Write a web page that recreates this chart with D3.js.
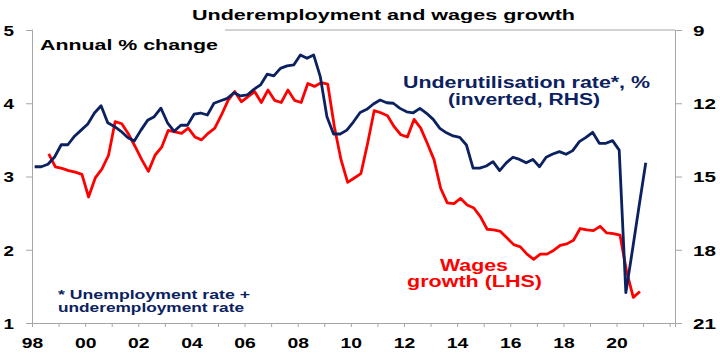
<!DOCTYPE html>
<html>
<head>
<meta charset="utf-8">
<script src="https://cdn.jsdelivr.net/npm/d3@7"></script>
<style>
body { margin: 0; background: #fff; }
text { font-family: "Liberation Sans", Arial, sans-serif; font-weight: bold; }
</style>
</head>
<body>
<div id="chart-area"></div>
<script>
const margin = {top: 30, right: 45, bottom: 30, left: 32};
const width = 643;
const height = 293;

const navy = "#0b2160";
const red = "#ff0000";
const axisGrey = "#a6a6a6";

// Underutilisation rate, % (quarterly, from Feb 1998)
const underStart = 1998.1;
const underutil = [14.6, 14.6, 14.5, 14.2, 13.7, 13.7, 13.35, 13.1, 12.85, 12.4,
	12.1, 12.8, 12.95, 13.15, 13.4, 13.55, 13.1, 12.7, 12.55, 12.2,
	12.8, 13.15, 12.9, 12.9, 12.45, 12.4, 12.48, 12.0, 11.9, 11.8,
	11.57, 11.7, 11.66, 11.43, 11.25, 10.81, 10.88, 10.57, 10.47, 10.43,
	10.02, 10.16, 10.02, 10.91, 12.55, 13.26, 13.26, 13.1, 12.76, 12.38,
	12.25, 12.03, 11.87, 11.98, 12.0, 12.21, 12.35, 12.39, 12.21, 12.41,
	12.66, 13.03, 13.21, 13.34, 13.4, 13.71, 14.66, 14.66, 14.57, 14.39,
	14.76, 14.44, 14.21, 14.3, 14.44, 14.3, 14.6, 14.21, 14.08, 13.98,
	14.09, 13.94, 13.57, 13.4, 13.19, 13.64, 13.64, 13.53, 13.92, 19.76,
	18.0, 16.2, 14.44];

// Wages growth, annual % change (quarterly, from Sep 1998)
const wagesStart = 1998.63;
const wages = [3.31, 3.13, 3.11, 3.08, 3.06, 3.03, 2.72, 2.98, 3.1, 3.29,
	3.75, 3.72, 3.58, 3.41, 3.23, 3.07, 3.29, 3.4, 3.63, 3.61,
	3.59, 3.66, 3.54, 3.5, 3.59, 3.66, 3.84, 4.04, 4.16, 4.02,
	4.09, 4.16, 4.01, 4.18, 4.04, 4.01, 4.18, 4.04, 4.01, 4.27,
	4.23, 4.28, 4.26, 3.68, 3.23, 2.92, 2.98, 3.04, 3.45, 3.9,
	3.87, 3.83, 3.68, 3.57, 3.54, 3.78, 3.66, 3.45, 3.23, 2.84,
	2.64, 2.63, 2.7, 2.61, 2.57, 2.45, 2.28, 2.27, 2.25, 2.16,
	2.07, 2.04, 1.94, 1.87, 1.94, 1.94, 1.99, 2.06, 2.08, 2.13,
	2.29, 2.27, 2.26, 2.32, 2.23, 2.22, 2.2, 1.7, 1.35, 1.43];

const yearTicks = [1998, 1999, 2000, 2001, 2002, 2003, 2004, 2005, 2006, 2007, 2008, 2009,
	2010, 2011, 2012, 2013, 2014, 2015, 2016, 2017, 2018, 2019, 2020, 2021, 2022];
const yearLabels = {1998: "98", 2000: "00", 2002: "02", 2004: "04", 2006: "06", 2008: "08",
	2010: "10", 2012: "12", 2014: "14", 2016: "16", 2018: "18", 2020: "20"};
const leftTicks = [1, 2, 3, 4, 5];
const rightTicks = [9, 12, 15, 18, 21];

const underData = underutil.map((v, i) => ({date: underStart + i * 0.25, v: v}));
const wagesData = wages.map((v, i) => ({date: wagesStart + i * 0.25, v: v}));

//SVG
const svg = d3.select("#chart-area")
	.append("svg")
	.attr("width", 720)
	.attr("height", 353);

const group = svg.append("g")
	.attr("transform", `translate(${margin.left}, ${margin.top})`);

//Escalas
const x = d3.scaleLinear().domain([1998, 2022.2]).range([0, width]);
const yL = d3.scaleLinear().domain([1, 5]).range([height, 0]);
const yR = d3.scaleLinear().domain([9, 21]).range([0, height]);

// plot border top
group.append("line")
	.attr("x1", 0).attr("x2", width)
	.attr("y1", 0).attr("y2", 0)
	.attr("stroke", axisGrey);

//Ejes
const xGroup = group.append("g").attr("transform", `translate(0, ${height})`)
	.call(d3.axisBottom(x).tickValues(yearTicks).tickSizeOuter(0).tickSize(4)
		.tickFormat(d => yearLabels[d] || ""));
xGroup.selectAll("text")
	.attr("y", 25).attr("dy", 0)
	.attr("font-size", "15px")
	.attr("fill", "#000")
	.filter(function() { return this.textContent.length > 0; })
	.attr("textLength", 21.5)
	.attr("lengthAdjust", "spacingAndGlyphs");

const yGroup = group.append("g")
	.call(d3.axisLeft(yL).tickValues(leftTicks).tickSize(6).tickSizeOuter(0)
		.tickFormat(d3.format("d")));
yGroup.selectAll("text")
	.attr("x", -18).attr("dy", "0.36em")
	.attr("font-size", "15px")
	.attr("fill", "#000")
	.attr("textLength", 10.5)
	.attr("lengthAdjust", "spacingAndGlyphs");

const yRGroup = group.append("g").attr("transform", `translate(${width}, 0)`)
	.call(d3.axisRight(yR).tickValues(rightTicks).tickSize(7).tickSizeOuter(0)
		.tickFormat(d3.format("d")));
yRGroup.selectAll("text")
	.attr("x", 18).attr("dy", "0.36em")
	.attr("font-size", "15px")
	.attr("fill", "#000")
	.attr("textLength", function() { return this.textContent.length * 11.5; })
	.attr("lengthAdjust", "spacingAndGlyphs");

svg.selectAll(".domain, .tick line").attr("stroke", axisGrey);

// lines
const lineL = d3.line().x(d => x(d.date)).y(d => yL(d.v));
const lineR = d3.line().x(d => x(d.date)).y(d => yR(d.v));

group.append("path")
	.datum(wagesData)
	.attr("fill", "none")
	.attr("stroke", red)
	.attr("stroke-width", 2.8)
	.attr("stroke-linejoin", "round")
	.attr("d", lineL);

group.append("path")
	.datum(underData)
	.attr("fill", "none")
	.attr("stroke", navy)
	.attr("stroke-width", 2.8)
	.attr("stroke-linejoin", "round")
	.attr("d", lineR);

// labels
function label(px, py, str, size, color, anchor, len) {
	svg.append("text")
		.attr("x", px)
		.attr("y", py)
		.attr("font-size", size + "px")
		.attr("fill", color)
		.attr("text-anchor", anchor)
		.attr("textLength", len)
		.attr("lengthAdjust", "spacingAndGlyphs")
		.text(str);
}

// white box behind the "Annual % change" note
svg.append("rect")
	.attr("x", 33).attr("y", 28)
	.attr("width", 192).attr("height", 28)
	.attr("fill", "#fff");

label(383.5, 19.5, "Underemployment and wages growth", 15.5, "#000", "middle", 383);
label(40, 49.5, "Annual % change", 15.5, "#000", "start", 178);
label(526.5, 88, "Underutilisation rate*, %", 16, navy, "middle", 247);
label(524, 104.5, "(inverted, RHS)", 16, navy, "middle", 152);
label(474, 270.5, "Wages", 16, red, "middle", 68);
label(474.5, 287.3, "growth (LHS)", 16, red, "middle", 135);
label(58, 298.5, "* Unemployment rate +", 13.5, navy, "start", 192);
label(58, 312, "underemployment rate", 13.5, navy, "start", 186);
</script>
</body>
</html>
